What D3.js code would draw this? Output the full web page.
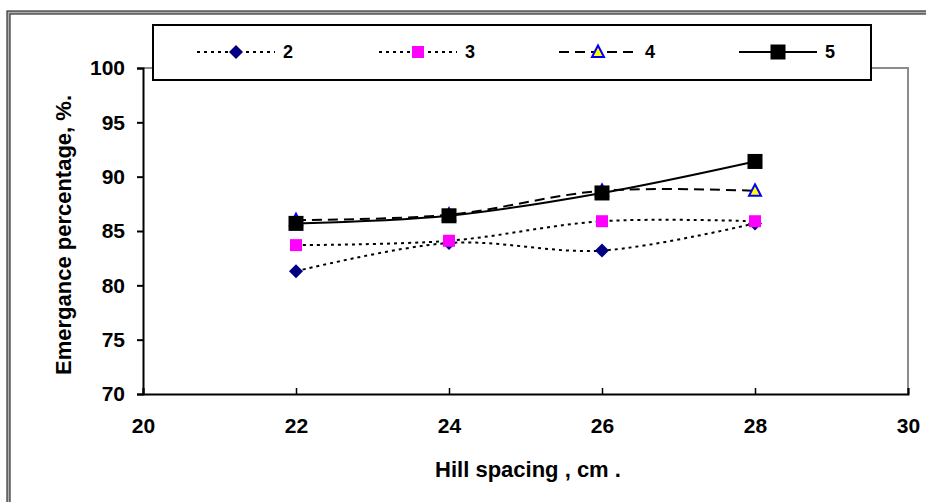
<!DOCTYPE html>
<html><head><meta charset="utf-8">
<script src="https://cdn.jsdelivr.net/npm/d3@7"></script>
<style>body{margin:0;background:#fff}svg{display:block}text{font-family:"Liberation Sans",Arial,sans-serif;font-weight:bold}</style>
</head><body>
<svg id="c" width="926" height="502"></svg>
<script>
const hillSpacing = [22, 24, 26, 28];
const series2 = [81.3, 83.9, 83.2, 85.7];
const series3 = [83.7, 84.1, 85.9, 85.9];
const series4 = [86.0, 86.5, 88.7, 88.7];
const series5 = [85.7, 86.4, 88.5, 91.4];
const seriesNames = ["2", "3", "4", "5"];
const xTicks = [20, 22, 24, 26, 28, 30];
const yTicks = [70, 75, 80, 85, 90, 95, 100];

const svg = d3.select("#c");
const W = 926, H = 502;
const m = {l: 143, r: 908, t: 68, b: 394};
const x = d3.scaleLinear().domain([20, 30]).range([m.l, m.r]);
const y = d3.scaleLinear().domain([70, 100]).range([m.b, m.t]);
const FONT = '"Liberation Sans",Arial,sans-serif';

// outer double frame
svg.append("rect").attr("x", 8.5).attr("y", 12.5).attr("width", W).attr("height", H)
  .attr("fill", "none").attr("stroke", "#b0b0b0").attr("stroke-width", 3);
svg.append("rect").attr("x", 7).attr("y", 11).attr("width", W + 10).attr("height", H + 10)
  .attr("fill", "none").attr("stroke", "#333").attr("stroke-width", 1.2);
svg.append("rect").attr("x", 10).attr("y", 14).attr("width", W + 10).attr("height", H + 10)
  .attr("fill", "none").attr("stroke", "#333").attr("stroke-width", 1.2);

// plot area border (gray top/right)
svg.append("path").attr("d", `M${m.l},${m.t}H${m.r}V${m.b}`)
  .attr("fill", "none").attr("stroke", "#8c8c8c").attr("stroke-width", 2);

// axes
const yAxis = d3.axisLeft(y).tickValues(yTicks).tickSize(6).tickPadding(12).tickFormat(d3.format("d"));
const gy = svg.append("g").attr("transform", `translate(${m.l},0)`).call(yAxis);
gy.select(".domain").attr("stroke", "#000").attr("stroke-width", 2);
gy.selectAll(".tick line").attr("stroke", "#000").attr("stroke-width", 2);
gy.selectAll(".tick text").attr("font-size", 21).attr("fill", "#000")
  .style("font-family", FONT).style("font-weight", "bold");

const xAxis = d3.axisBottom(x).tickValues(xTicks).tickSize(-6).tickPadding(22).tickFormat(d3.format("d"));
const gx = svg.append("g").attr("transform", `translate(0,${m.b})`).call(xAxis);
gx.select(".domain").attr("stroke", "#000").attr("stroke-width", 2);
gx.selectAll(".tick line").attr("stroke", "#000").attr("stroke-width", 1.5);
gx.selectAll(".tick text").attr("font-size", 21).attr("fill", "#000").attr("dy", null).attr("y", 39)
  .style("font-family", FONT).style("font-weight", "bold");

// axis titles
svg.append("text").attr("x", 528).attr("y", 477).attr("text-anchor", "middle")
  .attr("font-size", 22).text("Hill spacing , cm .");
svg.append("text").attr("transform", "translate(71,235) rotate(-90)").attr("text-anchor", "middle")
  .attr("font-size", 22).text("Emergance percentage, %.");

// series
const styles = [
  {vals: series2, dash: "3,4", marker: "diamond"},
  {vals: series3, dash: "3,4", marker: "square"},
  {vals: series4, dash: "10,6", marker: "triangle"},
  {vals: series5, dash: null, marker: "bigsquare"}
];
const line = d3.line().x(d => x(d[0])).y(d => y(d[1])).curve(d3.curveCatmullRom.alpha(0.5));

function drawMarker(g, type, cx, cy) {
  if (type === "diamond") {
    g.append("path").attr("d", `M${cx},${cy-7}L${cx+7},${cy}L${cx},${cy+7}L${cx-7},${cy}Z`).attr("fill", "#000080");
  } else if (type === "square") {
    g.append("rect").attr("x", cx-6).attr("y", cy-6).attr("width", 12).attr("height", 12).attr("fill", "#ff00ff");
  } else if (type === "triangle") {
    g.append("path").attr("d", `M${cx},${cy-6.5}L${cx+6},${cy+5}L${cx-6},${cy+5}Z`)
      .attr("fill", "#ffff00").attr("stroke", "#0000ff").attr("stroke-width", 2);
  } else {
    g.append("rect").attr("x", cx-7.5).attr("y", cy-7.5).attr("width", 15).attr("height", 15).attr("fill", "#000");
  }
}

// draw each series (line then markers) in order so later series sit on top
styles.forEach(s => {
  const g = svg.append("g");
  const pts = hillSpacing.map((h, i) => [h, s.vals[i]]);
  const p = g.append("path").attr("d", line(pts)).attr("fill", "none").attr("stroke", "#000").attr("stroke-width", 2);
  if (s.dash) p.attr("stroke-dasharray", s.dash);
  hillSpacing.forEach((h, i) => drawMarker(g, s.marker, x(h), y(s.vals[i])));
});

// legend
const lg = svg.append("g");
lg.append("rect").attr("x", 153).attr("y", 25).attr("width", 718).attr("height", 55)
  .attr("fill", "#fff").attr("stroke", "#000").attr("stroke-width", 2);
const legX = [197, 379, 559, 739];
styles.forEach((s, i) => {
  const x0 = legX[i], yc = 52;
  const l = lg.append("line").attr("x1", x0).attr("x2", x0 + 78).attr("y1", yc).attr("y2", yc)
    .attr("stroke", "#000").attr("stroke-width", 2);
  if (s.dash) l.attr("stroke-dasharray", s.dash);
  drawMarker(lg, s.marker, x0 + 39, yc);
  lg.append("text").attr("x", x0 + 86).attr("y", yc + 6).attr("font-size", 18).text(seriesNames[i]);
});
</script>
</body></html>
